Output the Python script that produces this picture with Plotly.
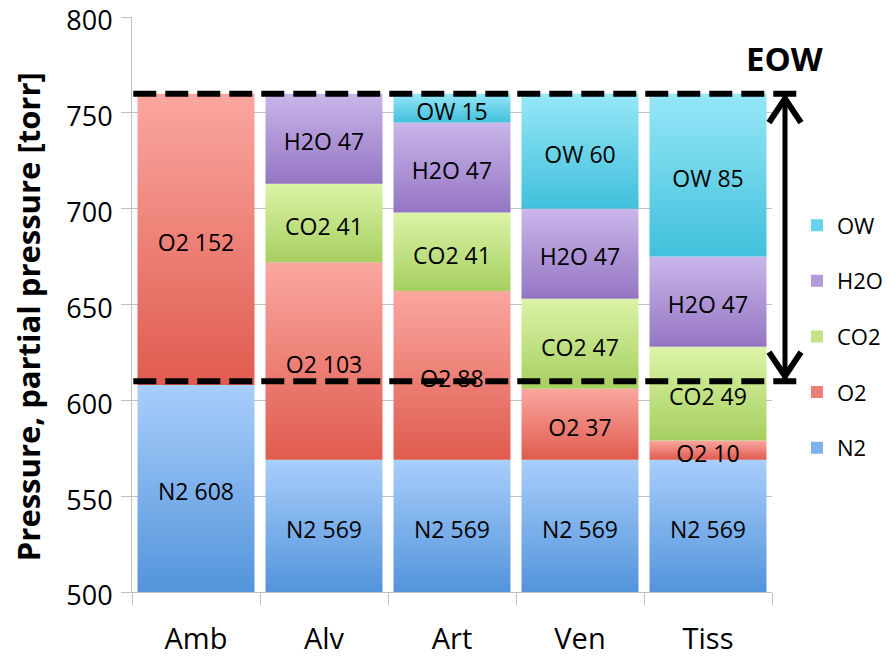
import plotly.graph_objects as go

categories = ["Amb", "Alv", "Art", "Ven", "Tiss"]
gases = ["N2", "O2", "CO2", "H2O", "OW"]
n2 = [608, 569, 569, 569, 569]
o2 = [152, 103, 88, 37, 10]
co2 = [0, 41, 41, 47, 49]
h2o = [0, 47, 47, 47, 47]
ow = [0, 0, 15, 60, 85]
series = [n2, o2, co2, h2o, ow]
eow_bounds = [610, 760]
y_ticks = [500, 550, 600, 650, 700, 750, 800]
y_min, y_max = 500, 800

# (bottom colour, top colour) of each segment's vertical gradient
gradients = {
    "N2": ("#5394db", "#a8cefb"),
    "O2": ("#e05b4e", "#faa7a0"),
    "CO2": ("#a6cf60", "#dcf4a7"),
    "H2O": ("#9575c3", "#c9b6ea"),
    "OW": ("#40c0dc", "#97e7f7"),
}
legend_colors = {"N2": "#7cb1ec", "O2": "#ee7f76", "CO2": "#c4e287",
                 "H2O": "#b49bdb", "OW": "#66d3ea"}

font_family = "Open Sans, sans-serif"
bar_w = 0.914
xs = list(range(len(categories)))
plot_h_px = 575
label_drop_px = 6
label_shift = label_drop_px * (y_max - y_min) / plot_h_px

fig = go.Figure()
cum = [0] * len(categories)
label_x, label_y, label_t = [], [], []
for k, (g, vals) in enumerate(zip(gases, series)):
    lo, hi = gradients[g]
    for i, v in enumerate(vals):
        b = cum[i]
        top = b + v
        cum[i] = top
        if not v:
            continue
        vb = max(b, y_min)
        x0, x1 = xs[i] - bar_w / 2, xs[i] + bar_w / 2
        fig.add_trace(go.Scatter(
            x=[x0, x1, x1, x0, x0], y=[vb, vb, top, top, vb],
            mode="none", fill="toself",
            fillgradient=dict(type="vertical",
                              colorscale=[[0, lo], [1, hi]]),
            showlegend=False, hoverinfo="skip",
        ))
        label_x.append(xs[i])
        label_y.append((vb + top) / 2)
        label_t.append(f"{g} {v}")
    # legend entry (swatch only)
    fig.add_trace(go.Bar(
        x=[None], y=[None], name=g, legendgroup=g,
        legendrank=len(gases) - k,
        marker=dict(color=legend_colors[g], line=dict(width=0)),
        hoverinfo="skip",
    ))

# segment labels, on an overlaid y axis nudged a few pixels down
fig.add_trace(go.Scatter(
    x=label_x, y=label_y, text=label_t, mode="text", yaxis="y2",
    textposition="middle center", cliponaxis=False,
    textfont=dict(family=font_family, size=23, color="black"),
    showlegend=False, hoverinfo="skip",
))

# EOW dashed bounds
for yv in eow_bounds:
    fig.add_shape(type="line", xref="paper", yref="y",
                  x0=0.002, x1=1.044, y0=yv, y1=yv,
                  line=dict(color="black", width=6, dash="23px,9px"))

# double arrow
arrow_x = 1.0203
fig.add_shape(type="line", xref="paper", yref="y",
              x0=arrow_x, x1=arrow_x, y0=eow_bounds[0] + 1, y1=eow_bounds[1] - 1,
              line=dict(color="black", width=5))
fig.add_shape(type="path", xref="paper", yref="y",
              xsizemode="pixel", ysizemode="pixel",
              xanchor=arrow_x, yanchor=eow_bounds[1],
              path="M -16 -29 L 0 -5 L 16 -29",
              line=dict(color="black", width=6))
fig.add_shape(type="path", xref="paper", yref="y",
              xsizemode="pixel", ysizemode="pixel",
              xanchor=arrow_x, yanchor=eow_bounds[0],
              path="M -16 29 L 0 5 L 16 29",
              line=dict(color="black", width=6))

fig.add_annotation(xref="paper", yref="y", x=1.019, y=778.6,
                   xanchor="center", yanchor="middle",
                   text="<b>EOW</b>", showarrow=False,
                   font=dict(family=font_family, size=33, color="black"))

# y-axis title
fig.add_annotation(xref="paper", yref="paper", x=-0.1625, y=0.478,
                   xanchor="center", yanchor="middle",
                   text="<b>Pressure, partial pressure [torr]</b>",
                   textangle=-90, showarrow=False,
                   font=dict(family=font_family, size=31, color="black"))

fig.update_layout(
    width=887, height=649,
    barmode="overlay",
    paper_bgcolor="white",
    plot_bgcolor="white",
    margin=dict(l=124, r=123, t=9, b=65, autoexpand=False),
    font=dict(family=font_family, color="black"),
    showlegend=True,
    legend=dict(x=1.039, xanchor="left", y=0.674, yanchor="top",
                traceorder="grouped", tracegroupgap=24,
                font=dict(size=22, family=font_family),
                bgcolor="rgba(0,0,0,0)"),
    yaxis2=dict(overlaying="y", range=[y_min + label_shift, y_max + label_shift],
                visible=False, showgrid=False, zeroline=False,
                automargin=False),
)
fig.update_yaxes(selector=dict(anchor="x"))
fig.layout.yaxis.update(range=[y_min, y_max], tickvals=y_ticks, automargin=False,
                        showgrid=True, gridcolor="#c0c0c0", gridwidth=1,
                        showline=True, linecolor="#c0c0c0", linewidth=1,
                        ticks="outside", ticklen=10, tickcolor="#c0c0c0",
                        tickfont=dict(size=27, family=font_family),
                        ticklabelstandoff=3, ticklabelshift=4,
                        ticklabeloverflow="allow",
                        zeroline=False)
fig.update_xaxes(type="linear", range=[-0.5, len(categories) - 0.5],
                 tickvals=xs, ticktext=categories,
                 automargin=False, showgrid=False, zeroline=False,
                 showline=True, linecolor="#c0c0c0", linewidth=1,
                 ticks="outside", ticklen=12, tickcolor="rgba(0,0,0,0)",
                 minor=dict(tickvals=[x - 0.5 for x in xs] + [xs[-1] + 0.5],
                            ticks="outside", ticklen=12, tickcolor="#c0c0c0",
                            showgrid=False),
                 tickfont=dict(size=29, family=font_family),
                 ticklabelstandoff=9, ticklabeloverflow="allow")

fig.write_html("out.html")
